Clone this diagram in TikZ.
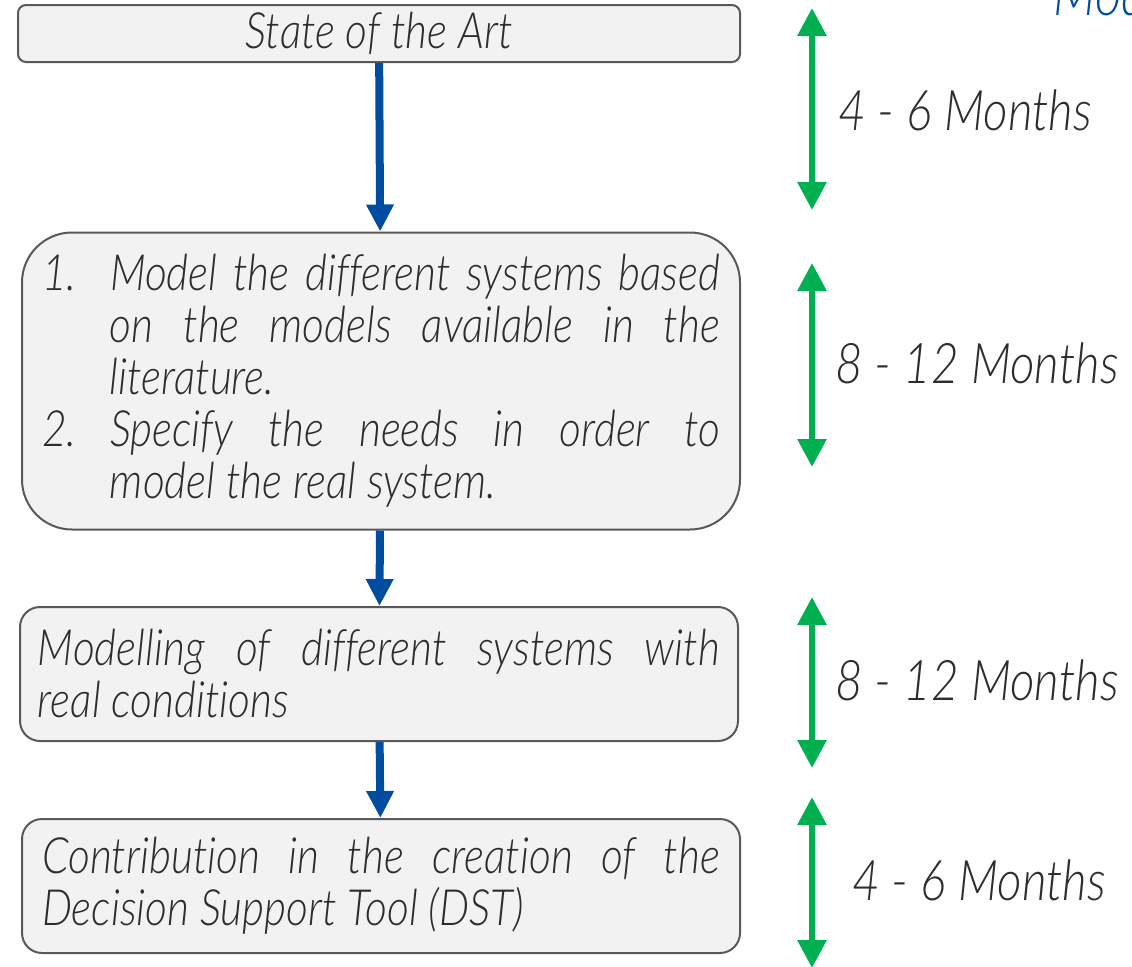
\documentclass[tikz,border=0pt]{standalone}
\usepackage{fontspec}
\setmainfont{Lato}[UprightFont=* Light, ItalicFont=* Light Italic, BoldFont=* Light, BoldItalicFont=* Light Italic]
\newfontfamily\narrowfont{Lato}[UprightFont=* Light, ItalicFont=* Light Italic, FakeStretch=0.85, Ligatures=NoCommon]
\usetikzlibrary{arrows.meta,positioning}
\definecolor{stepblue}{RGB}{0,76,160}
\definecolor{timegreen}{RGB}{0,176,80}
\definecolor{boxgray}{RGB}{242,242,242}
\definecolor{edgegray}{RGB}{89,89,89}
\definecolor{txtgray}{RGB}{45,45,45}

\begin{document}
\begin{tikzpicture}[x=0.5pt, y=-0.5pt,
          stage/.style = {draw=edgegray, fill=boxgray, line width=1pt, inner sep=0pt,
                          minimum width=359pt, text=txtgray, font=\narrowfont\itshape\fontsize{25}{26}\selectfont},
          flow/.style = {stepblue, line width=4pt, -{Triangle[width=13pt, length=13.5pt]}},
          span/.style = {timegreen, line width=3pt, {Triangle[width=14pt, length=14pt]}-{Triangle[width=14pt, length=14pt]}},
          months/.style = {anchor=west, inner sep=0pt, text=txtgray, font=\narrowfont\itshape\fontsize{28}{30}\selectfont}]
        \useasboundingbox (0,0) rectangle (1132,966);
        \node[stage, minimum width=361pt, minimum height=28.5pt, rounded corners=4pt] (art) at (379,33.5) {State of the Art};
        \node[stage, minimum height=148.5pt, rounded corners=25pt, text width=339pt, align=justify] (model) at (381,381)
             {{\hangindent=34pt\hangafter=1\noindent\makebox[34pt][l]{1.}Model the different systems based\linebreak
               on the models available in the\linebreak literature.\par}
              {\hangindent=34pt\hangafter=1\noindent\makebox[34pt][l]{2.}Specify the needs in order to\linebreak
               model the real system.\par}};
        \node[stage, minimum height=67pt, rounded corners=10pt, text width=341pt, align=justify] (real) at (379,674)
             {Modelling of different systems with\linebreak real conditions};
        \node[stage, minimum height=67pt, rounded corners=10pt, text width=339pt, align=justify] (dst) at (381,886)
             {Contribution in the creation of the\linebreak Decision Support Tool (DST)};
        \draw[flow] (art) -- (model);
        \draw[flow] (model) -- (real);
        \draw[flow] (real) -- (dst);
        % durations
        \foreach \n/\a/\b/\t/\x/\y in {1/8/210/4 - 6 Months/838/110,
                                       2/263/467/8 - 12 Months/835/363,
                                       3/597/768/8 - 12 Months/835/680,
                                       4/797/968/4 - 6 Months/852/880}
                 {
                   \coordinate (top\n) at (812,\a);
                   \coordinate (bot\n) at (812,\b);
                   \draw[span] (top\n) -- (bot\n);
                   \node[months] (time\n) at (\x,\y) {\t};
                 }
        \node[anchor=base west, inner sep=0pt, text=stepblue, font=\narrowfont\itshape\fontsize{30}{30}\selectfont] (mod) at (1053,15) {Mod};
      \end{tikzpicture}
\end{document}
